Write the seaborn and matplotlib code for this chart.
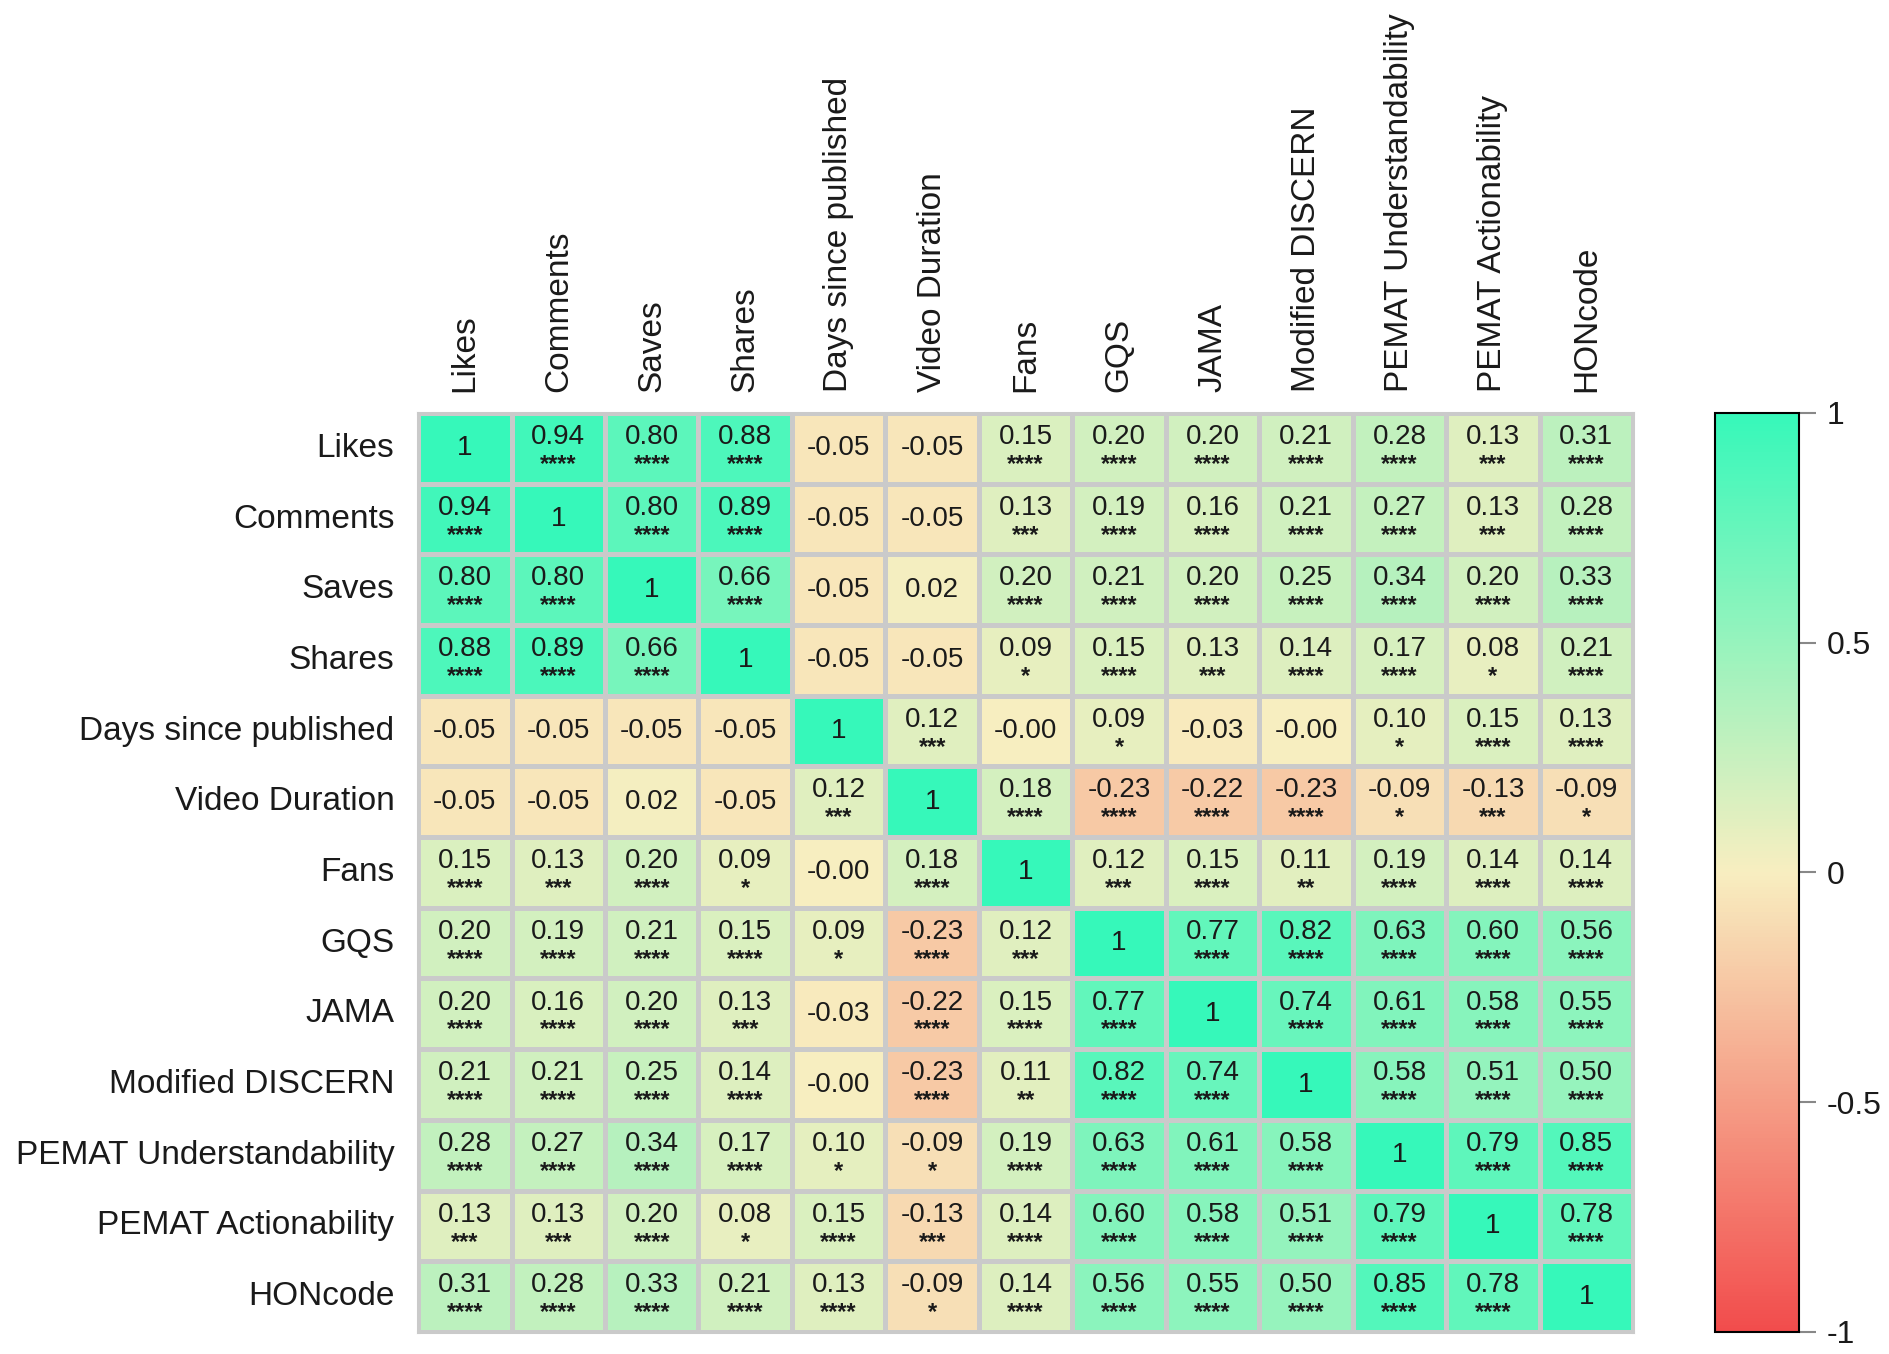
import numpy as np
import pandas as pd
import seaborn as sns
import matplotlib.pyplot as plt
from matplotlib.colors import LinearSegmentedColormap

# # Data
variables = ['Likes', 'Comments', 'Saves', 'Shares', 'Days since published', 'Video Duration',
             'Fans', 'GQS', 'JAMA', 'Modified DISCERN', 'PEMAT Understandability',
             'PEMAT Actionability', 'HONcode']

# correlation coefficients, one list per row
r_values = [
    [1, 0.94, 0.80, 0.88, -0.05, -0.05, 0.15, 0.20, 0.20, 0.21, 0.28, 0.13, 0.31],
    [0.94, 1, 0.80, 0.89, -0.05, -0.05, 0.13, 0.19, 0.16, 0.21, 0.27, 0.13, 0.28],
    [0.80, 0.80, 1, 0.66, -0.05, 0.02, 0.20, 0.21, 0.20, 0.25, 0.34, 0.20, 0.33],
    [0.88, 0.89, 0.66, 1, -0.05, -0.05, 0.09, 0.15, 0.13, 0.14, 0.17, 0.08, 0.21],
    [-0.05, -0.05, -0.05, -0.05, 1, 0.12, -0.0, 0.09, -0.03, -0.0, 0.10, 0.15, 0.13],
    [-0.05, -0.05, 0.02, -0.05, 0.12, 1, 0.18, -0.23, -0.22, -0.23, -0.09, -0.13, -0.09],
    [0.15, 0.13, 0.20, 0.09, -0.0, 0.18, 1, 0.12, 0.15, 0.11, 0.19, 0.14, 0.14],
    [0.20, 0.19, 0.21, 0.15, 0.09, -0.23, 0.12, 1, 0.77, 0.82, 0.63, 0.60, 0.56],
    [0.20, 0.16, 0.20, 0.13, -0.03, -0.22, 0.15, 0.77, 1, 0.74, 0.61, 0.58, 0.55],
    [0.21, 0.21, 0.25, 0.14, -0.0, -0.23, 0.11, 0.82, 0.74, 1, 0.58, 0.51, 0.50],
    [0.28, 0.27, 0.34, 0.17, 0.10, -0.09, 0.19, 0.63, 0.61, 0.58, 1, 0.79, 0.85],
    [0.13, 0.13, 0.20, 0.08, 0.15, -0.13, 0.14, 0.60, 0.58, 0.51, 0.79, 1, 0.78],
    [0.31, 0.28, 0.33, 0.21, 0.13, -0.09, 0.14, 0.56, 0.55, 0.50, 0.85, 0.78, 1],
]

# significance stars, one list per row
stars = [
    ['', '****', '****', '****', '', '', '****', '****', '****', '****', '****', '***', '****'],
    ['****', '', '****', '****', '', '', '***', '****', '****', '****', '****', '***', '****'],
    ['****', '****', '', '****', '', '', '****', '****', '****', '****', '****', '****', '****'],
    ['****', '****', '****', '', '', '', '*', '****', '***', '****', '****', '*', '****'],
    ['', '', '', '', '', '***', '', '*', '', '', '*', '****', '****'],
    ['', '', '', '', '***', '', '****', '****', '****', '****', '*', '***', '*'],
    ['****', '***', '****', '*', '', '****', '', '***', '****', '**', '****', '****', '****'],
    ['****', '****', '****', '****', '*', '****', '***', '', '****', '****', '****', '****', '****'],
    ['****', '****', '****', '***', '', '****', '****', '****', '', '****', '****', '****', '****'],
    ['****', '****', '****', '****', '', '****', '**', '****', '****', '', '****', '****', '****'],
    ['****', '****', '****', '****', '*', '*', '****', '****', '****', '****', '', '****', '****'],
    ['***', '***', '****', '*', '****', '***', '****', '****', '****', '****', '****', '', '****'],
    ['****', '****', '****', '****', '****', '*', '****', '****', '****', '****', '****', '****', ''],
]

df = pd.DataFrame(r_values, index=variables, columns=variables)

sns.set_theme(style='white')
plt.rcParams['font.family'] = ['Liberation Sans', 'DejaVu Sans']

cmap = LinearSegmentedColormap.from_list('red_green', ['#F24C4C', '#F8EEC0', '#36F8BA'])

fig = plt.figure(figsize=(18.9, 13.54), dpi=100)
ax = fig.add_axes([0.2212, 0.0163, 0.6429, 0.6787])
cax = fig.add_axes([0.9074, 0.0163, 0.0444, 0.6787])

# Plot correlation coefficient by a heatmap
sns.heatmap(df, vmin=-1, vmax=1, cmap=cmap, linewidths=2.2, linecolor='#CACACA',
            annot=False, ax=ax, cbar_ax=cax)

# numbers and stars in each cell
txt_color = '#1A1A1A'
for i in range(len(variables)):
    for j in range(len(variables)):
        v = r_values[i][j]
        label = '1' if v == 1 else f'{v:.2f}'
        if stars[i][j]:
            ax.text(j + 0.5, i + 0.34, label, ha='center', va='center', fontsize=20, color=txt_color)
            ax.text(j + 0.5, i + 0.82, stars[i][j], ha='center', va='baseline', fontsize=17,
                    fontweight='bold', color=txt_color)
        else:
            ax.text(j + 0.5, i + 0.5, label, ha='center', va='center', fontsize=20, color=txt_color)

# axis labels
ax.xaxis.tick_top()
ax.set_xticklabels(variables, rotation=90, fontsize=24, color=txt_color)
ax.set_yticklabels(variables, rotation=0, fontsize=24, color=txt_color)
ax.tick_params(axis='x', top=True, bottom=False, length=0, pad=15)
ax.tick_params(axis='y', left=True, length=0, pad=17)
ax.set_xlabel('')
ax.set_ylabel('')
for sp in ax.spines.values():
    sp.set_visible(True)
    sp.set_color('#CACACA')
    sp.set_linewidth(2.2)

# colorbar
cbar = ax.collections[0].colorbar
cbar.set_ticks([-1, -0.5, 0, 0.5, 1])
cbar.set_ticklabels(['-1', '-0.5', '0', '0.5', '1'])
cbar.outline.set_visible(True)
cbar.outline.set_edgecolor('black')
cbar.outline.set_linewidth(1.5)
cax.tick_params(axis='y', right=True, labelsize=23, color='#888888', length=12, width=1.5,
                pad=8, labelcolor=txt_color)

plt.savefig('out.png', dpi=100)
